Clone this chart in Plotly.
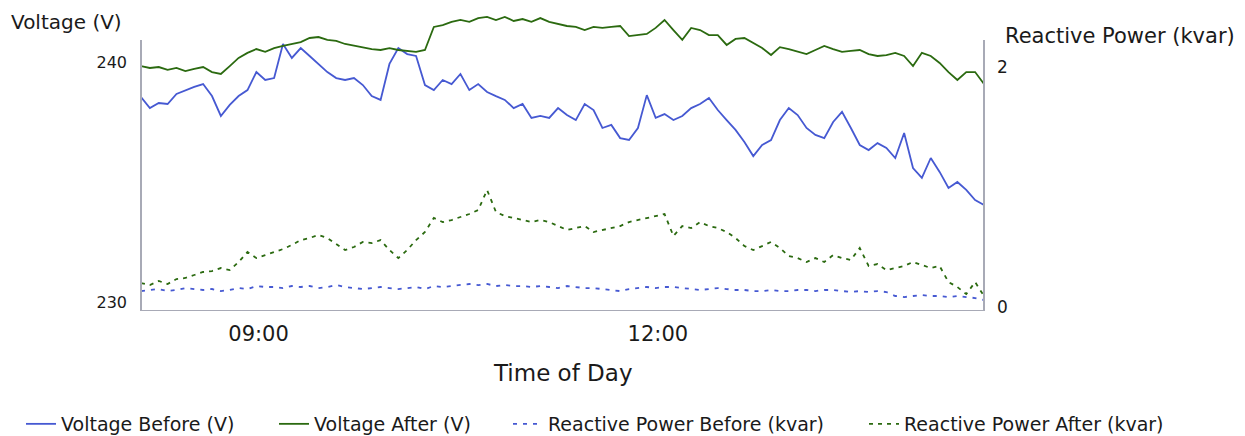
import pandas as pd
import plotly.graph_objects as go

# Sampling times: every 4 minutes from 08:07 to 14:27
times = pd.date_range("2024-01-01 08:07", "2024-01-01 14:27", freq="4min")

volt_before = [238.54, 238.08, 238.29, 238.25, 238.67, 238.83, 238.96, 239.08, 238.58, 237.75,
               238.21, 238.58, 238.83, 239.58, 239.25, 239.33, 240.75, 240.17, 240.58, 240.25,
               239.92, 239.58, 239.33, 239.25, 239.33, 239.04, 238.58, 238.42, 239.92, 240.58,
               240.33, 240.25, 239.04, 238.83, 239.25, 239.08, 239.50, 238.83, 239.08, 238.75,
               238.58, 238.42, 238.08, 238.25, 237.67, 237.75, 237.67, 238.08, 237.79, 237.58,
               238.25, 238.00, 237.25, 237.38, 236.83, 236.75, 237.25, 238.62, 237.67, 237.83,
               237.58, 237.75, 238.08, 238.25, 238.50, 238.00, 237.58, 237.17, 236.67, 236.08,
               236.54, 236.75, 237.58, 238.08, 237.79, 237.25, 236.96, 236.83, 237.50, 237.92,
               237.25, 236.54, 236.33, 236.62, 236.42, 236.00, 237.04, 235.58, 235.17, 236.00,
               235.42, 234.75, 235.00, 234.67, 234.25, 234.04]

volt_after = [239.83, 239.75, 239.79, 239.67, 239.75, 239.62, 239.71, 239.79, 239.58, 239.50,
              239.83, 240.17, 240.38, 240.54, 240.42, 240.58, 240.67, 240.75, 240.83, 241.00,
              241.04, 240.92, 240.88, 240.75, 240.67, 240.62, 240.54, 240.50, 240.58, 240.50,
              240.46, 240.42, 240.50, 241.46, 241.54, 241.67, 241.75, 241.67, 241.83, 241.88,
              241.75, 241.88, 241.71, 241.79, 241.67, 241.83, 241.67, 241.58, 241.50, 241.46,
              241.33, 241.46, 241.42, 241.46, 241.50, 241.08, 241.12, 241.17, 241.42, 241.75,
              241.33, 240.92, 241.42, 241.33, 241.12, 241.12, 240.71, 240.96, 241.00, 240.79,
              240.58, 240.29, 240.62, 240.54, 240.42, 240.33, 240.50, 240.67, 240.54, 240.42,
              240.46, 240.50, 240.33, 240.25, 240.29, 240.38, 240.25, 239.83, 240.38, 240.25,
              239.96, 239.58, 239.25, 239.58, 239.58, 239.08]

react_before = [0.133, 0.142, 0.150, 0.133, 0.142, 0.158, 0.150, 0.142, 0.150, 0.133,
                0.142, 0.158, 0.150, 0.175, 0.167, 0.167, 0.158, 0.175, 0.167, 0.175,
                0.158, 0.167, 0.183, 0.167, 0.158, 0.150, 0.158, 0.167, 0.158, 0.150,
                0.158, 0.167, 0.150, 0.175, 0.167, 0.175, 0.183, 0.192, 0.183, 0.192,
                0.175, 0.183, 0.175, 0.175, 0.167, 0.175, 0.167, 0.158, 0.175, 0.167,
                0.158, 0.158, 0.150, 0.142, 0.133, 0.150, 0.158, 0.167, 0.158, 0.167,
                0.167, 0.158, 0.150, 0.142, 0.150, 0.158, 0.150, 0.142, 0.142, 0.133,
                0.133, 0.142, 0.133, 0.133, 0.142, 0.142, 0.133, 0.142, 0.142, 0.133,
                0.125, 0.133, 0.125, 0.133, 0.125, 0.092, 0.083, 0.092, 0.100, 0.092,
                0.092, 0.083, 0.092, 0.083, 0.075, 0.058]

react_after = [0.200, 0.183, 0.217, 0.192, 0.233, 0.242, 0.267, 0.292, 0.300, 0.325,
               0.308, 0.375, 0.458, 0.408, 0.433, 0.458, 0.483, 0.517, 0.558, 0.575,
               0.600, 0.575, 0.525, 0.475, 0.500, 0.542, 0.533, 0.558, 0.475, 0.408,
               0.475, 0.558, 0.625, 0.742, 0.708, 0.725, 0.750, 0.775, 0.808, 0.975,
               0.792, 0.758, 0.742, 0.725, 0.708, 0.725, 0.708, 0.675, 0.642, 0.658,
               0.675, 0.625, 0.642, 0.658, 0.675, 0.708, 0.725, 0.742, 0.758, 0.775,
               0.592, 0.675, 0.658, 0.708, 0.675, 0.658, 0.625, 0.575, 0.508, 0.475,
               0.508, 0.542, 0.492, 0.425, 0.408, 0.375, 0.408, 0.375, 0.433, 0.408,
               0.392, 0.492, 0.342, 0.358, 0.308, 0.325, 0.342, 0.375, 0.350, 0.325,
               0.342, 0.208, 0.167, 0.108, 0.208, 0.092]

volt_ticks = [230, 240]
react_ticks = [0, 2]
time_ticks = ["2024-01-01 09:00", "2024-01-01 12:00"]

BLUE = "#4659d2"
GREEN = "#2b6a10"
AXIS = "#a8aab6"
FONT = "DejaVu Sans"
TEXT = "#1a1a1a"

V_RANGE = [229.625, 242.083]
Q_RANGE = [-0.033, 2.458]
V_TOP = 240.92  # where the drawn axis lines stop

series = [
    (volt_before, "Voltage Before (V)", "y", BLUE, "solid", "legend"),
    (volt_after, "Voltage After (V)", "y", GREEN, "solid", "legend2"),
    (react_before, "Reactive Power Before (kvar)", "y2", BLUE, "4px,6px", "legend3"),
    (react_after, "Reactive Power After (kvar)", "y2", GREEN, "4px,5px", "legend4"),
]

fig = go.Figure()
for values, name, axis, color, dash, leg in series:
    fig.add_trace(go.Scatter(x=times, y=values, name=name, mode="lines", yaxis=axis,
                             legend=leg, line=dict(color=color, width=1.8, dash=dash)))

# One legend box per series so each entry sits at its own spot along the bottom
legend_x = {"legend": 21, "legend2": 274, "legend3": 508, "legend4": 864}
legend_style = {}
for key, px in legend_x.items():
    legend_style[key] = dict(orientation="h", xref="container", yref="container",
                             x=px / 1245, xanchor="left", y=1 - 424 / 436, yanchor="middle",
                             font=dict(size=19, color=TEXT), bgcolor="rgba(0,0,0,0)")

fig.update_layout(
    width=1245, height=436,
    margin=dict(l=141, r=261, t=12, b=125, autoexpand=False),
    paper_bgcolor="white", plot_bgcolor="white",
    font=dict(family=FONT, color=TEXT),
    showlegend=True,
    **legend_style,
    xaxis=dict(type="date", range=[times[0], times[-1]], tickvals=time_ticks,
               tickformat="%H:%M", showgrid=False, zeroline=False, showline=False,
               ticks="", tickfont=dict(size=21, color=TEXT), ticklabelstandoff=8),
    yaxis=dict(range=V_RANGE, tickvals=volt_ticks, showgrid=False, zeroline=False,
               showline=False, ticks="", tickfont=dict(size=16, color=TEXT),
               ticklabelstandoff=13),
    yaxis2=dict(range=Q_RANGE, tickvals=react_ticks, overlaying="y", side="right",
                showgrid=False, zeroline=False, showline=False, ticks="",
                tickfont=dict(size=17, color=TEXT), ticklabelstandoff=12),
)

# Axis frame: left, right and bottom lines
for x0, x1, y0, y1 in [(0, 0, V_RANGE[0], V_TOP), (1, 1, V_RANGE[0], V_TOP),
                       (0, 1, V_RANGE[0], V_RANGE[0])]:
    fig.add_shape(type="line", xref="paper", yref="y", x0=x0, x1=x1, y0=y0, y1=y1,
                  line=dict(color=AXIS, width=2))

# Axis titles
fig.add_annotation(text="Voltage (V)", xref="paper", yref="paper", x=-0.156, y=0.966,
                   xanchor="left", yanchor="middle", showarrow=False,
                   font=dict(size=20, color=TEXT))
fig.add_annotation(text="Reactive Power (kvar)", xref="paper", yref="paper", x=1.0225, y=0.92,
                   xanchor="left", yanchor="middle", showarrow=False,
                   font=dict(size=21, color=TEXT))
fig.add_annotation(text="Time of Day", xref="paper", yref="paper", x=0.5006, y=-0.207,
                   xanchor="center", yanchor="middle", showarrow=False,
                   font=dict(size=23, color=TEXT))

fig.write_html("out.html")
